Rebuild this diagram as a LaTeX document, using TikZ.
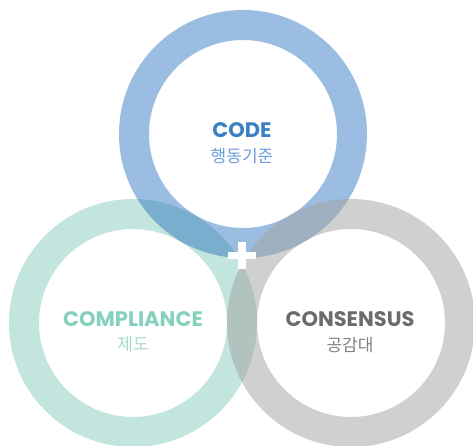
\documentclass[tikz,border=0pt]{standalone}
\usepackage{fontspec}
\setmainfont{Poppins}
\newfontfamily\kr{Noto Sans CJK KR}
\usetikzlibrary{calc}
\definecolor{ringblue}{HTML}{2A72BF}
\definecolor{ringteal}{HTML}{C2E5DE}
\definecolor{ringgray}{HTML}{A1A1A1}
\definecolor{txtblue}{HTML}{3B7FC4}
\definecolor{subblue}{HTML}{6A9FD6}
\definecolor{txtteal}{HTML}{86D0BE}
\definecolor{subteal}{HTML}{A2DBCD}
\definecolor{txtgray}{HTML}{6C6C6C}
\definecolor{subgray}{HTML}{808080}
\tikzset{
  ring/.style={even odd rule},
  title/.style={font=\bfseries\fontsize{21}{24}\selectfont, inner sep=0pt, anchor=base},
  sub/.style={font=\kr\fontsize{17}{20}\selectfont, inner sep=0pt, anchor=base},
}
\begin{document}
\begin{tikzpicture}[x=1pt,y=-1pt]
\useasboundingbox (0,0) rectangle (473,445);
\coordinate (ctop) at (243,134);
\coordinate (cleft) at (133,323);
\coordinate (cright) at (351,323);
\fill[ringteal, ring] (cleft) circle[radius=124] (cleft) circle[radius=94];
\fill[ringblue, ring, fill opacity=0.47] (ctop) circle[radius=124] (ctop) circle[radius=94];
\fill[ringgray, ring, fill opacity=0.5] (cright) circle[radius=124] (cright) circle[radius=94];
% plus
\fill[white] (228,252) rectangle (256,259);
\fill[white] (238,242) rectangle (246,269);
% texts
\node[title, text=txtblue] (code) at (242,137) {CODE};
\node[sub, text=subblue] (codesub) at (242,162) {행동기준};
\node[title, text=txtteal] (comp) at (133,326) {COMPLIANCE};
\node[sub, text=subteal] (compsub) at (133,350) {제도};
\node[title, text=txtgray] (cons) at (350,326) {CONSENSUS};
\node[sub, text=subgray] (conssub) at (350,351) {공감대};
\end{tikzpicture}
\end{document}
